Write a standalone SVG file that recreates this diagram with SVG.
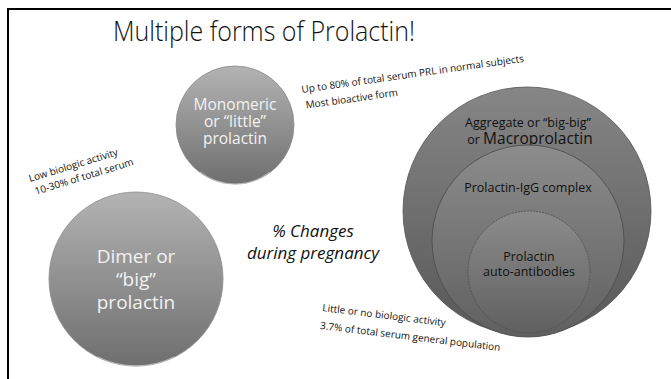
<svg xmlns="http://www.w3.org/2000/svg" width="671" height="379" viewBox="0 0 671 379">
  <style>
    .lbl { font-family: "Open Sans", "Noto Sans", "DejaVu Sans", sans-serif; font-size: 10px; fill: #111; }
    .wt { font-family: "Open Sans", "Noto Sans", sans-serif; fill: #f2f2f2; text-anchor: middle; }
    .bk { font-family: "Open Sans", "Noto Sans", sans-serif; fill: #111; text-anchor: middle; font-size: 12.5px; }
    .rim { fill: none; stroke: #c8c8c8; stroke-width: 1.2; opacity: 0.7; }
  </style>
  <defs>
    <linearGradient id="gLight" x1="0" y1="0" x2="0" y2="1">
      <stop offset="0" stop-color="#b3b3b3"/>
      <stop offset="1" stop-color="#6f6f6f"/>
    </linearGradient>
    <linearGradient id="gDark" x1="0" y1="0" x2="0" y2="1">
      <stop offset="0" stop-color="#868686"/>
      <stop offset="1" stop-color="#585858"/>
    </linearGradient>
    <linearGradient id="gMid" x1="0" y1="0" x2="0" y2="1">
      <stop offset="0" stop-color="#8c8c8c"/>
      <stop offset="1" stop-color="#606060"/>
    </linearGradient>
  </defs>
  <rect width="671" height="379" fill="#ffffff"/>
  <path d="M8 379 V9 H671" fill="none" stroke="#000" stroke-width="2"/>

  <text x="113" y="41" font-family="'Open Sans', 'Noto Sans', sans-serif" font-weight="300" font-size="27" fill="#111" textLength="302" lengthAdjust="spacingAndGlyphs">Multiple forms of Prolactin!</text>

  <g id="monomeric">
    <circle cx="235" cy="125" r="59" fill="url(#gLight)" stroke="#8a8a8a" stroke-width="0.8"/>
    <path class="rim" d="M200 172 A57 57 0 0 0 270 172"/>
    <text class="wt" font-size="15.5"><tspan x="235" y="110">Monomeric</tspan><tspan x="235" y="127">or “little”</tspan><tspan x="235" y="144">prolactin</tspan></text>
  </g>

  <g id="dimer">
    <circle cx="136" cy="279" r="87" fill="url(#gLight)" stroke="#8a8a8a" stroke-width="0.8"/>
    <path class="rim" d="M98 357 A85 85 0 0 0 174 357"/>
    <text class="wt" font-size="19"><tspan x="136" y="263">Dimer or</tspan><tspan x="136" y="286">“big”</tspan><tspan x="136" y="309">prolactin</tspan></text>
  </g>

  <g id="macro">
    <circle cx="527" cy="211" r="124" fill="url(#gDark)" stroke="#555" stroke-width="0.8"/>
    <text class="bk"><tspan x="528" y="127">Aggregate or “big-big”</tspan><tspan x="530" y="144">or <tspan font-size="15.5">Macroprolactin</tspan></tspan></text>
  </g>
  <g id="igg">
    <circle cx="528" cy="241" r="96" fill="url(#gMid)" stroke="#4e4e4e" stroke-width="0.9"/>
    <text class="bk" x="528" y="192">Prolactin-IgG complex</text>
  </g>
  <g id="autoab">
    <circle cx="529" cy="272" r="61" fill="url(#gMid)" stroke="#4e4e4e" stroke-width="0.8" stroke-dasharray="2 1"/>
    <text class="bk"><tspan x="529" y="261">Prolactin</tspan><tspan x="529" y="276">auto-antibodies</tspan></text>
  </g>

  <g id="labels">
    <g transform="translate(302,93) rotate(-8)">
      <text class="lbl" x="0" y="0">Up to 80% of total serum PRL in normal subjects</text>
      <text class="lbl" x="2" y="16">Most bioactive form</text>
    </g>
    <g transform="translate(30,182) rotate(-17)">
      <text class="lbl" x="0" y="0">Low biologic activity</text>
      <text class="lbl" x="2" y="14">10-30% of total serum</text>
    </g>
    <g transform="translate(322,311) rotate(7)">
      <text class="lbl" x="0" y="0">Little or no biologic activity</text>
      <text class="lbl" x="0" y="18">3.7% of total serum general population</text>
    </g>
    <text font-family="'Open Sans', 'Noto Sans', sans-serif" font-style="italic" font-size="17" fill="#111" text-anchor="middle"><tspan x="313" y="237">% Changes</tspan><tspan x="313" y="259">during pregnancy</tspan></text>
  </g>
</svg>
